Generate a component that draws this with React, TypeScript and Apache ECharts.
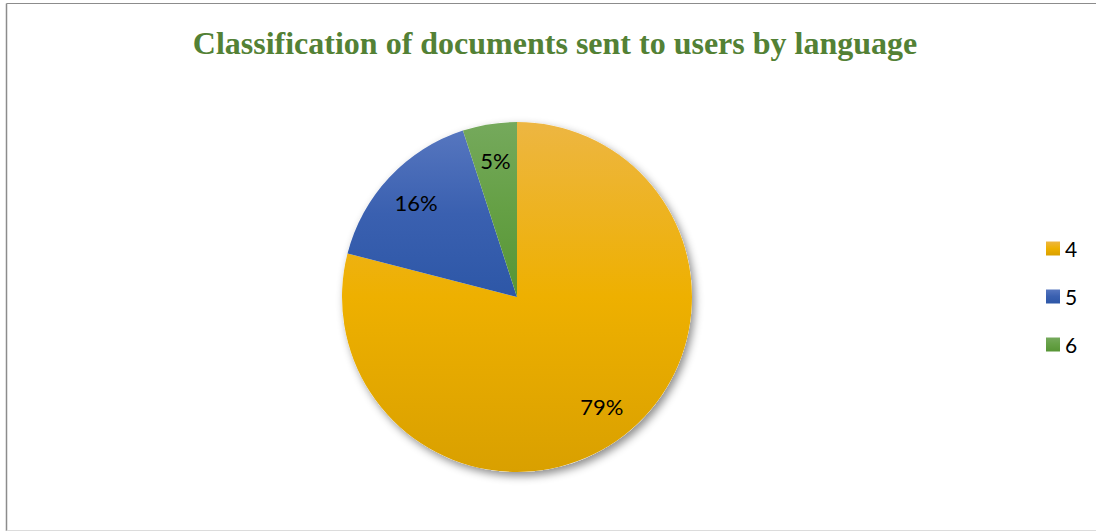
import React, { useEffect, useRef } from "react";
import * as echarts from "echarts";

const categories = ["4", "5", "6"];
const values = [79, 16, 5];
const titleText = "Classification of documents sent to users by language";

const gradients = [
  ["#EDB642", "#EEB000", "#D9A000"],
  ["#5676BF", "#3A60B0", "#2D57A7"],
  ["#75A95C", "#65A045", "#579535"],
];

function grad(c: string[]) {
  return new echarts.graphic.LinearGradient(0, 0, 0, 1, [
    { offset: 0, color: c[0] },
    { offset: 0.5, color: c[1] },
    { offset: 1, color: c[2] },
  ]);
}

export default function App() {
  const ref = useRef<HTMLDivElement>(null);
  useEffect(() => {
    const chart = echarts.init(ref.current!, null, { renderer: "svg" });
    const data = categories.map((name, i) => ({
      name,
      value: values[i],
      itemStyle: { color: grad(gradients[i]) },
    }));
    chart.setOption({
      animation: false,
      backgroundColor: "#ffffff",
      title: {
        text: titleText,
        left: 550,
        textAlign: "center",
        top: 22,
        textStyle: {
          fontFamily: "Liberation Serif, Times New Roman, serif",
          fontWeight: "bold",
          fontSize: 32,
          color: "#538135",
        },
      },
      legend: {
        data: categories,
        orient: "vertical",
        left: 1041,
        top: 233,
        itemWidth: 14,
        itemHeight: 14,
        itemGap: 27,
        icon: "rect",
        textStyle: { fontFamily: "Lato, sans-serif", fontSize: 21, color: "#000" },
        selectedMode: false,
      },
      graphic: [
        { type: "line", shape: { x1: 6.5, y1: 3.5, x2: 1096, y2: 3.5 }, style: { stroke: "#8c8c8c", lineWidth: 1 }, silent: true },
        { type: "line", shape: { x1: 6.5, y1: 3.5, x2: 6.5, y2: 531 }, style: { stroke: "#8c8c8c", lineWidth: 1.5 }, silent: true },
        { type: "line", shape: { x1: 6.5, y1: 530.5, x2: 1096, y2: 530.5 }, style: { stroke: "#dcdcdc", lineWidth: 1 }, silent: true },
      ],
      series: [
        {
          type: "pie",
          center: [517, 297],
          radius: [0, 175],
          silent: true,
          label: { show: false },
          labelLine: { show: false },
          data: [{ name: "bg", value: 1, itemStyle: { color: "#ffffff", shadowBlur: 8, shadowOffsetX: 3, shadowOffsetY: 4, shadowColor: "rgba(0,0,0,0.45)" } }],
        },
        {
          type: "pie",
          center: [517, 297],
          radius: [0, 175],
          startAngle: 90,
          clockwise: true,
          silent: true,
          label: { show: false },
          labelLine: { show: false },
          data,
        },
        {
          type: "pie",
          center: [517, 297],
          radius: [96, 175],
          startAngle: 90,
          clockwise: true,
          silent: true,
          itemStyle: { color: "rgba(0,0,0,0)" },
          label: {
            show: true,
            position: "inside",
            formatter: "{d}%",
            fontFamily: "Lato, sans-serif",
            fontSize: 22,
            color: "#000",
          },
          labelLine: { show: false },
          data: categories.map((name, i) => ({ name: "l" + name, value: values[i] })),
        },
      ],
    });
    return () => chart.dispose();
  }, []);
  return <div ref={ref} style={{ position: "fixed", left: 0, top: 0, width: 1096, height: 531 }} />;
}
